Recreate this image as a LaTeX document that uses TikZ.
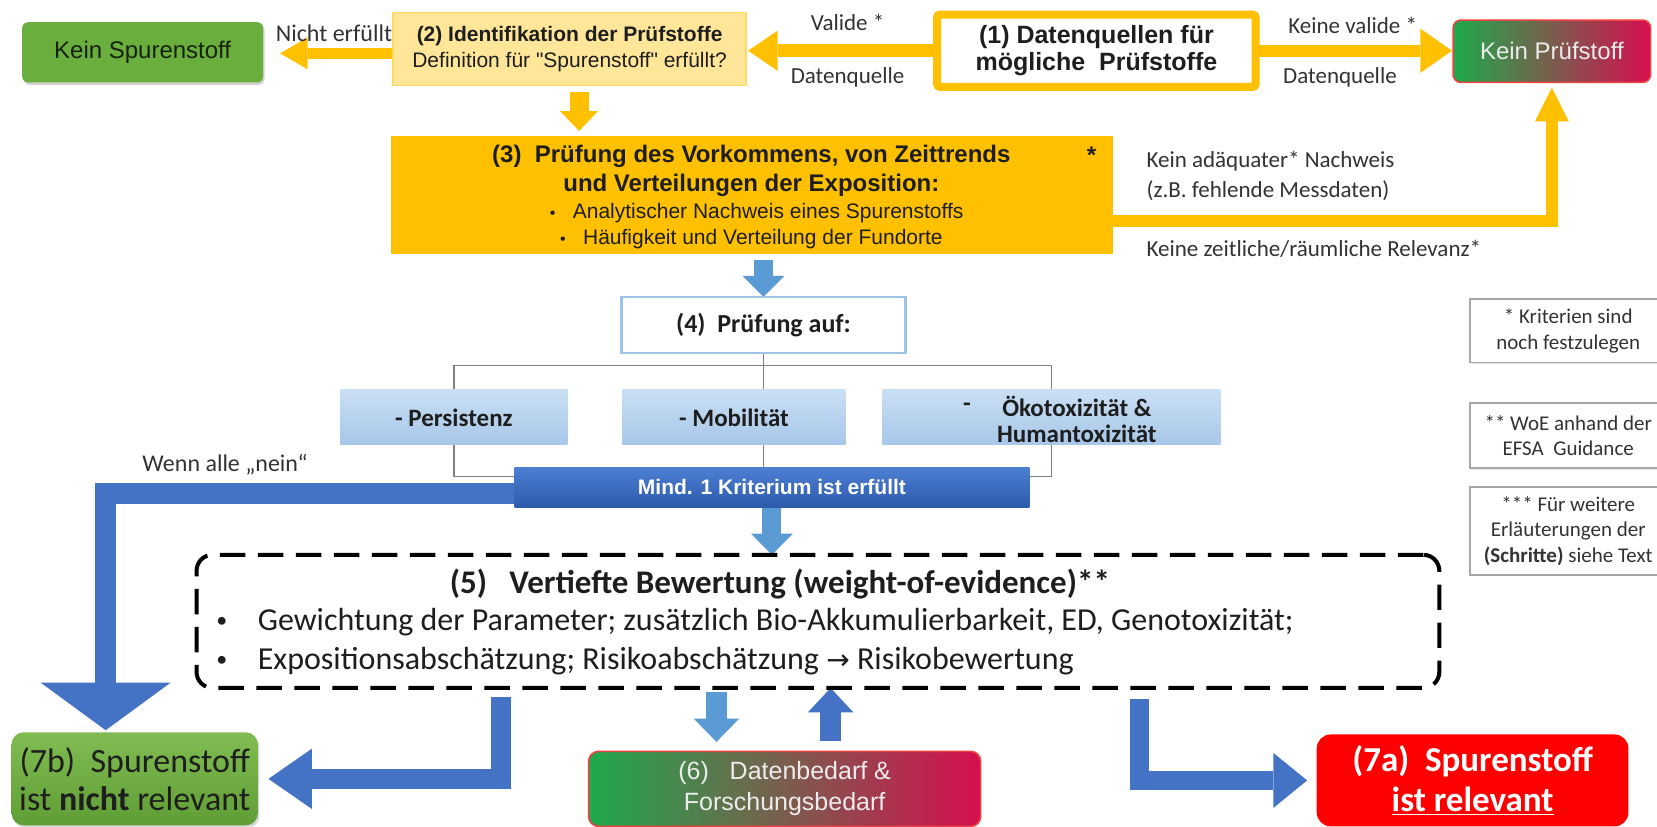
\documentclass[tikz,border=0pt]{standalone}
\usepackage{fontspec}
\setmainfont{Liberation Sans}
\newfontfamily\carl{Carlito}
\newfontfamily\dejavu{DejaVu Sans}
\usetikzlibrary{arrows.meta,calc,shadows}
\pgfdeclarelayer{bg}
\pgfsetlayers{bg,main}
\newdimen\U \U=0.528381pt
\newcommand\fs[2]{\fontsize{#1}{#2}\selectfont}
\definecolor{yel}{HTML}{FFC000}
\definecolor{ylight}{HTML}{FFE699}
\definecolor{yborder}{HTML}{FFD966}
\definecolor{ksgreen}{HTML}{6AAE3E}
\definecolor{kstxt}{HTML}{16220E}
\definecolor{gstart}{HTML}{1EAA4C}
\definecolor{gend}{HTML}{D60F4F}
\definecolor{kpborder}{HTML}{F04040}
\definecolor{kptxt}{HTML}{ECECEC}
\definecolor{dblue}{HTML}{4472C4}
\definecolor{lblue}{HTML}{5B9BD5}
\definecolor{critA}{HTML}{CADFF3}
\definecolor{critB}{HTML}{A7C7E9}
\definecolor{bfour}{HTML}{9DC3E6}
\definecolor{mindA}{HTML}{4C7FD3}
\definecolor{mindB}{HTML}{2E5AAA}
\definecolor{gsevA}{HTML}{80BC52}
\definecolor{gsevB}{HTML}{5F9E35}
\definecolor{redsev}{HTML}{FF0000}
\definecolor{txt}{HTML}{1E1E1E}
\definecolor{gtxt}{HTML}{333333}
\definecolor{notebd}{HTML}{A6A6A6}
\definecolor{treegray}{HTML}{808080}
\begin{document}
\begin{tikzpicture}[x=\U, y=-\U,
  every node/.style={inner sep=0pt, outer sep=0pt, align=center},
  lbl/.style={font=\carl\fs{11.5}{14}, text=gtxt},
  tree/.style={draw=treegray, line width=0.7pt},
  blk/.style n args={4}{draw=#1, line width=#2, line cap=butt, line join=miter,
    -{Triangle[width=#3,length=#4,line width=0pt]}},
  crit/.style={top color=critA, bottom color=critB, minimum height=52*\U,
    font=\carl\bfseries\fs{12.5}{14}, text=txt},
  note/.style={draw=notebd, line width=0.9pt, fill=white,
    drop shadow={shadow xshift=0.6pt, shadow yshift=-0.8pt, opacity=0.2},
    minimum width=186*\U, font=\carl\fs{10.5}{12.7}, text=gtxt},
  grad/.style={left color=gstart, right color=gend, draw=kpborder, line width=0.8pt},
  fivetxt/.style={font=\carl\fs{16}{18}, text=txt}
]
\useasboundingbox (0,0) rectangle (1568,782);

% ---------- top row ----------
\node[fill=ksgreen, rounded corners=3pt,
  drop shadow={shadow xshift=0.8pt, shadow yshift=-1.2pt, opacity=0.35},
  minimum width=228*\U, minimum height=57*\U, font=\fs{12}{14}, text=kstxt]
  (ks) at (135,49.5) {Kein Spurenstoff};
\node[fill=ylight, draw=yborder, line width=0.8pt, minimum width=334*\U,
  minimum height=69*\U, font=\fs{10.5}{12.7}, text=txt]
  (b2) at (539,46.5) {{\bfseries (2) Identifikation der Prüfstoffe}\\Definition für \textquotedbl Spurenstoff\textquotedbl\ erfüllt?};
\node[draw=yel, line width=4pt, rounded corners=1.5pt, minimum width=301.5*\U,
  minimum height=68.5*\U, font=\bfseries\fs{12.5}{13.7}, text=txt]
  (b1) at (1037.5,48) {(1) Datenquellen für\\mögliche\ \ Prüfstoffe};
\node[grad, rounded corners=4pt, minimum width=187*\U, minimum height=59*\U,
  font=\fs{12}{14}, text=kptxt] (kp) at (1468.5,48.5) {Kein Prüfstoff};

\node[lbl, font=\carl\fs{12}{14}] (lnicht) at (316,31) {Nicht erfüllt};
\node[lbl] (lval) at (802,21) {Valide *};
\node[lbl] (ldqa) at (802,73) {Datenquelle};
\node[lbl] (lkval) at (1280,24) {Keine valide *};
\node[lbl] (ldqb) at (1268,73) {Datenquelle};

% ---------- box 3 ----------
\node[fill=yel, minimum width=683*\U, minimum height=111*\U] (b3) at (711.5,184.5) {};
\node[font=\bfseries\fs{12}{14}, text=txt] (t3a) at (711,148) {(3)\ \ Prüfung des Vorkommens, von Zeittrends};
\node[font=\bfseries\fs{12}{14}, text=txt] (t3b) at (711,175) {und Verteilungen der Exposition:};
\node[font=\fs{10.5}{12}, text=txt] (t3c) at (716,202) {{\fs{8}{12}\textbullet}\ \ \ Analytischer Nachweis eines Spurenstoffs};
\node[font=\fs{10.5}{12}, text=txt] (t3d) at (711,226) {{\fs{8}{12}\textbullet}\ \ \ Häufigkeit und Verteilung der Fundorte};
\node[font=\bfseries\fs{12}{12}, text=txt] (t3s) at (1033,147) {*};

\node[lbl, anchor=west] (lka) at (1085,153) {Kein adäquater* Nachweis};
\node[lbl, anchor=west] (lkb) at (1085,180) {(z.B. fehlende Messdaten)};
\node[lbl, anchor=west] (lkc) at (1085,235) {Keine zeitliche/räumliche Relevanz*};

% ---------- box 4 and criteria ----------
\node[draw=bfour, line width=1.2pt, fill=white, minimum width=269*\U, minimum height=53*\U,
  font=\carl\bfseries\fs{13}{14}, text=txt] (b4) at (722.5,307.5) {(4)\ \ Prüfung auf:};
\node[crit, minimum width=215*\U] (cP) at (429.5,395) {- Persistenz};
\node[crit, minimum width=211*\U] (cM) at (694.5,395) {- Mobilität};
\node[crit, minimum width=320*\U] (cO) at (995,395) {};
\node[font=\carl\bfseries\fs{12.5}{13.3}, text=txt] (tO) at (1019,397) {Ökotoxizität \&\\Humantoxizität};
\node[font=\carl\bfseries\fs{12.5}{14}, text=txt] (tOd) at (915,385) {-};
\node[top color=mindA, bottom color=mindB, minimum width=487*\U, minimum height=38*\U,
  font=\bfseries\fs{10.5}{12}, text=white] (mind) at (730.5,461) {Mind. 1 Kriterium ist erfüllt};
\node[lbl, font=\carl\fs{12}{14}] (lwenn) at (213,440) {Wenn alle „nein“};

% ---------- box 5 ----------
\node[draw=black, line width=2pt, dash pattern=on 12.7pt off 6.3pt, rounded corners=8pt,
  minimum width=1176*\U, minimum height=126*\U] (b5) at (774,588) {};
\node[font=\carl\bfseries\fs{16.5}{18}, text=txt] (t5) at (738,553) {(5)\ \ \ Vertiefte Bewertung (weight-of-evidence)**};
\node[fivetxt] (t5ba) at (210,589) {{\fs{11}{16}\textbullet}};
\node[fivetxt, anchor=west] (t5la) at (244,589) {Gewichtung der Parameter; zusätzlich Bio-Akkumulierbarkeit, ED, Genotoxizität;};
\node[fivetxt] (t5bb) at (210,626) {{\fs{11}{16}\textbullet}};
\node[fivetxt, anchor=west] (t5lb) at (244,626) {Expositionsabschätzung; Risikoabschätzung {\dejavu\fs{14}{16}→} Risikobewertung};

% ---------- bottom row ----------
\node[top color=gsevA, bottom color=gsevB, rounded corners=6pt,
  drop shadow={shadow xshift=0.8pt, shadow yshift=-1.2pt, opacity=0.3},
  minimum width=233*\U, minimum height=88*\U, font=\carl\fs{17}{19}, text=txt]
  (b7b) at (127.5,737) {(7b)\ \ Spurenstoff\\ist \textbf{nicht} relevant};
\node[grad, rounded corners=5pt, minimum width=371*\U, minimum height=71*\U,
  font=\fs{12.5}{15.5}, text=kptxt] (b6) at (742.5,746.5) {(6)\ \ \ Datenbedarf \&\\Forschungsbedarf};
\node[fill=redsev, rounded corners=7pt, minimum width=295*\U, minimum height=87*\U,
  font=\carl\bfseries\fs{17.5}{20}, text=white] (b7a) at (1393.5,738.5) {(7a)\ \ Spurenstoff\\\underline{ist relevant}};

% ---------- notes ----------
\node[note, minimum height=60*\U] (na) at (1484,313) {* Kriterien sind\\noch festzulegen};
\node[note, minimum height=62*\U] (nb) at (1484,412) {** WoE anhand der\\EFSA\ \ Guidance};
\node[note, minimum height=83*\U] (nc) at (1484,502.5) {*** Für weitere\\Erläuterungen der\\\textbf{(Schritte)} siehe Text};

% ---------- connectors ----------
\begin{pgfonlayer}{bg}
\fill[white] (0,0) rectangle (1568,782);
\draw[blk={yel}{5.3pt}{15.9pt}{13.7pt}, shorten >=8.5pt] ($(b2.west)+(0,4)$) -- ($(b2.west -| ks.east)+(0,4)$);
\draw[blk={yel}{6.3pt}{20.1pt}{14.8pt}, shorten >=1pt] (b1.west) -- (b1.west -| b2.east);
\draw[blk={yel}{5.8pt}{22.2pt}{15.9pt}, shorten >=0.5pt] (b1.east) -- (b1.east -| kp.west);
\draw[blk={yel}{9.5pt}{19pt}{10pt}] ($(b2.south)+(9,6.5)$) -- ($(b2.south)+(9,43)$);
\draw[blk={yel}{5.8pt}{16.9pt}{16.9pt}, shorten >=2.6pt] ($(b3.east)+(0,24.5)$) -| (kp.south);
\draw[blk={lblue}{9.5pt}{21.1pt}{10.6pt}] ($(b4.north |- b3.south)+(0,6)$) -- (b4.north);
\coordinate (tj) at ($(b4.south)+(0,12)$);
\draw[tree] (b4.south) -- (tj);
\draw[tree] (cP.north) |- (tj) -| (cO.north);
\draw[tree] (tj) -- (tj |- cM.north);
\draw[tree] (cP.south) |- ($(mind.west)+(0,-10)$);
\draw[tree] (cO.south) |- ($(mind.east)+(0,-10)$);
\draw[tree] (tj |- cM.south) -- (tj |- mind.north);
\draw[blk={dblue}{10.6pt}{65pt}{23.8pt}] ($(mind.west)+(30,6)$) -| ($(b7b.north)+(-27.5,-2)$);
\draw[blk={lblue}{9.5pt}{21.1pt}{10.6pt}] (mind.south) -- (mind.south |- b5.north);
\draw[blk={dblue}{10pt}{30.1pt}{21.7pt}, shorten >=5.3pt] ($(b5.south west)+(288,9)$) |- (b7b.east);
\draw[blk={lblue}{10.6pt}{22.7pt}{11.6pt}] ($(b5.south west)+(492,4)$) -- ($(b6.north west)+(121,-9)$);
\draw[blk={dblue}{10.6pt}{22.7pt}{12.2pt}] ($(b6.north west)+(229,-10)$) -- ($(b5.south west)+(600,0)$);
\draw[blk={dblue}{9.5pt}{27.5pt}{16.9pt}, shorten >=4.8pt] ($(b5.south west)+(892,10)$) |- (b7a.west);
\end{pgfonlayer}
\end{tikzpicture}
\end{document}
